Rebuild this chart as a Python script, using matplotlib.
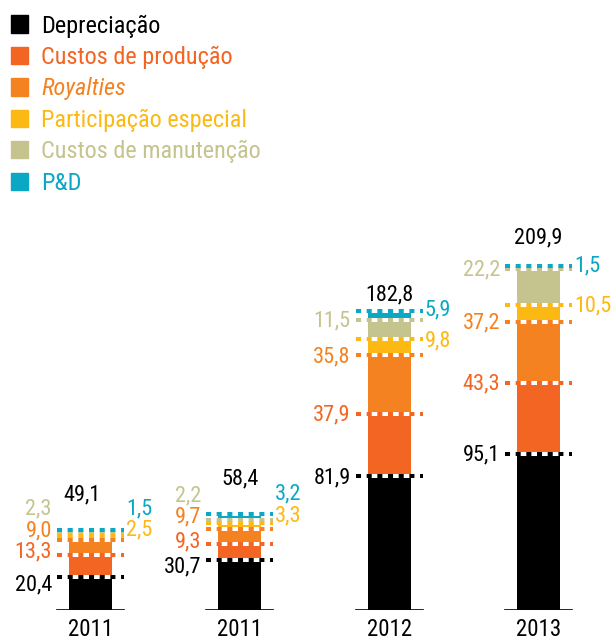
import matplotlib.pyplot as plt
from matplotlib.patches import Rectangle

# data
anos = ["2011", "2011", "2012", "2013"]
series = ["Depreciação", "Custos de produção", "Royalties",
          "Participação especial", "Custos de manutenção", "P&D"]
depreciacao = [20.4, 30.7, 81.9, 95.1]
custos_producao = [13.3, 9.3, 37.9, 43.3]
royalties = [9.0, 9.7, 35.8, 37.2]
participacao = [2.5, 3.3, 9.8, 10.5]
manutencao = [2.3, 2.2, 11.5, 22.2]
pd_ = [1.5, 3.2, 5.9, 1.5]
totais = [49.1, 58.4, 182.8, 209.9]

valores = [depreciacao, custos_producao, royalties, participacao, manutencao, pd_]
cores = ["#000000", "#F26522", "#F58220", "#FDB913", "#C5C48F", "#0AA8C4"]
lado = ["L", "L", "L", "R", "L", "R"]   # side of the value label

# label nudges (pixels, positive = down), per bar then per series
desloc = [[8.5, -2.5, -9, -6, -23, -21],
          [7.3, -3, -11.5, -7.5, -24, -20],
          [2, 1, 2, 2, 1, -1],
          [1, 1, 1, 1, 1, 0]]
desloc_total = [-35, -35, -16, -28]
dx_total = [-8, 0, 0, 0]

plt.rcParams["font.family"] = ["Roboto Condensed", "DejaVu Sans"]

fig = plt.figure(figsize=(6.12, 6.44), dpi=100)
ax = fig.add_axes([0, 34 / 644, 1, 380 / 644])
ax.set_xlim(-0.606, 3.493)
ax.set_ylim(0, 232)
for s in ax.spines.values():
    s.set_visible(False)
ax.set_yticks([])

x = list(range(len(anos)))
larg = 0.288
meia = 0.224

base = [0.0] * len(anos)
for k, vals in enumerate(valores):
    ax.bar(x, vals, width=larg, bottom=base, color=cores[k], zorder=2)
    topo = [b + v for b, v in zip(base, vals)]
    for j in range(len(anos)):
        ax.plot([x[j] - meia, x[j] + meia], [topo[j], topo[j]], color="white",
                lw=2.9, solid_capstyle="butt", zorder=3)
        ax.plot([x[j] - meia, x[j] + meia], [topo[j], topo[j]], color=cores[k],
                lw=2.9, linestyle=(0, (1.25, 1.4)), dash_capstyle="butt", zorder=4)
        txt = f"{vals[j]:.1f}".replace(".", ",")
        if lado[k] == "L":
            xy, dx, ha = (x[j] - larg / 2, topo[j]), -17, "right"
        else:
            xy, dx, ha = (x[j] + larg / 2, topo[j]), 14, "left"
        ax.annotate(txt, xy, xytext=(dx, -desloc[j][k]), textcoords="offset pixels",
                    ha=ha, va="center", color=cores[k], fontsize=16)
    base = topo

for j in range(len(anos)):
    ax.annotate(f"{totais[j]:.1f}".replace(".", ","), (x[j], base[j]),
                xytext=(dx_total[j], -desloc_total[j]), textcoords="offset pixels",
                ha="center", va="center", color="black", fontsize=16)
    ax.plot([x[j] - meia, x[j] + meia], [0, 0], color="black", lw=1.2, zorder=5)

ax.set_xticks(x)
ax.set_xticklabels(anos, fontsize=16.5)
ax.tick_params(axis="x", length=0, pad=6)

# legend
for i, (nome, cor) in enumerate(zip(series, cores)):
    y0 = 644 - (32.5 + i * 31.5)
    fig.patches.append(Rectangle((11 / 612, y0 / 644), 17 / 612, 17 / 644,
                                 transform=fig.transFigure, color=cor))
    fig.text(41 / 612, y0 / 644, nome, color=cor, fontsize=17.5, va="baseline",
             style="italic" if nome == "Royalties" else "normal")

fig.savefig("out.png", dpi=100)
